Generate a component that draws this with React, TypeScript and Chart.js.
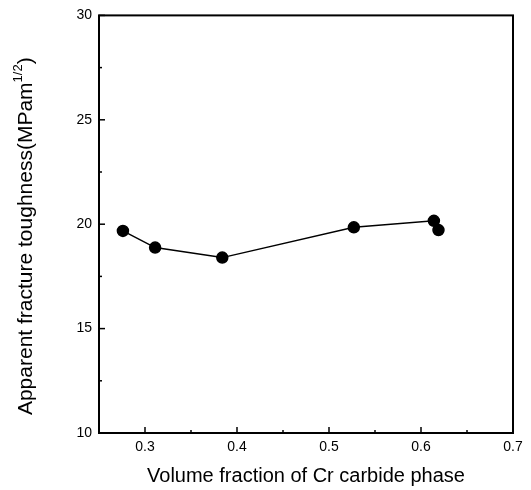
import React, { useEffect, useRef } from "react";
import { Chart, registerables } from "chart.js";

Chart.register(...registerables);

const volumeFraction = [0.276, 0.311, 0.384, 0.527, 0.614, 0.619];
const toughness = [19.68, 18.88, 18.4, 19.85, 20.16, 19.72];
const xTicks = [0.3, 0.4, 0.5, 0.6, 0.7];
const yTicks = [10, 15, 20, 25, 30];
const xMinorTicks = [0.35, 0.45, 0.55, 0.65];
const yMinorTicks = [12.5, 17.5, 22.5, 27.5];
const xTitle = "Volume fraction of Cr carbide phase";
const yTitleMain = "Apparent fracture toughness(MPam";
const yTitleSup = "1/2";
const yTitleEnd = ")";

const FONT = "'Liberation Sans', Arial, sans-serif";

const framePlugin = {
  id: "frame",
  afterDraw(chart: any) {
    const { ctx, chartArea: a, scales } = chart;
    const xs = scales.x;
    const ys = scales.y;
    ctx.save();
    ctx.strokeStyle = "#000";
    ctx.lineWidth = 2;
    ctx.strokeRect(a.left, a.top, a.right - a.left, a.bottom - a.top);
    ctx.lineWidth = 1.5;
    const tick = (x1: number, y1: number, x2: number, y2: number) => {
      ctx.beginPath();
      ctx.moveTo(x1, y1);
      ctx.lineTo(x2, y2);
      ctx.stroke();
    };
    xTicks.forEach((v) => {
      const px = xs.getPixelForValue(v);
      tick(px, a.bottom, px, a.bottom - 6);
    });
    xMinorTicks.forEach((v) => {
      const px = xs.getPixelForValue(v);
      tick(px, a.bottom, px, a.bottom - 3);
    });
    yTicks.forEach((v) => {
      const py = ys.getPixelForValue(v);
      tick(a.left, py, a.left + 6, py);
    });
    yMinorTicks.forEach((v) => {
      const py = ys.getPixelForValue(v);
      tick(a.left, py, a.left + 3, py);
    });
    // y title with superscript
    const mainFont = `21px ${FONT}`;
    const supFont = `13px ${FONT}`;
    ctx.font = mainFont;
    const w1 = ctx.measureText(yTitleMain).width;
    const w3 = ctx.measureText(yTitleEnd).width;
    ctx.font = supFont;
    const w2 = ctx.measureText(yTitleSup).width;
    const total = w1 + w2 + w3;
    const cy = (a.top + a.bottom) / 2 + 12;
    ctx.translate(26, cy);
    ctx.rotate(-Math.PI / 2);
    ctx.fillStyle = "#000";
    ctx.textBaseline = "middle";
    ctx.textAlign = "left";
    let x0 = -total / 2;
    ctx.font = mainFont;
    ctx.fillText(yTitleMain, x0, 0);
    x0 += w1;
    ctx.font = supFont;
    ctx.fillText(yTitleSup, x0, -8);
    x0 += w2;
    ctx.font = mainFont;
    ctx.fillText(yTitleEnd, x0, 0);
    ctx.restore();
  },
};

export default function App() {
  const ref = useRef<HTMLCanvasElement>(null);
  useEffect(() => {
    document.body.style.margin = "0";
    const chart = new Chart(ref.current!, {
      type: "scatter",
      data: {
        datasets: [
          {
            data: volumeFraction.map((x, i) => ({ x, y: toughness[i] })),
            showLine: true,
            borderColor: "#000",
            backgroundColor: "#000",
            borderWidth: 1.5,
            pointRadius: 5.5,
            pointHoverRadius: 5.5,
          },
        ],
      },
      options: {
        animation: false,
        responsive: false,
        layout: { padding: { left: 0, right: 18, top: 15, bottom: 0 } },
        plugins: { legend: { display: false }, tooltip: { enabled: false } },
        scales: {
          x: {
            type: "linear",
            min: 0.25,
            max: 0.7,
            afterBuildTicks: (s: any) => {
              s.ticks = xTicks.map((v) => ({ value: v }));
            },
            afterFit: (s: any) => {
              s.height = 57;
            },
            grid: { display: false, drawTicks: false },
            border: { display: false },
            ticks: {
              color: "#000",
              font: { family: FONT, size: 14 },
              padding: 6,
              callback: (v: any) => Number(v).toFixed(1),
            },
            title: {
              display: true,
              text: xTitle,
              color: "#000",
              font: { family: FONT, size: 20 },
              padding: { top: 2, bottom: 2 },
            },
          },
          y: {
            type: "linear",
            min: 10,
            max: 30,
            afterBuildTicks: (s: any) => {
              s.ticks = yTicks.map((v) => ({ value: v }));
            },
            afterFit: (s: any) => {
              s.width = 99;
            },
            grid: { display: false, drawTicks: false },
            border: { display: false },
            ticks: {
              color: "#000",
              font: { family: FONT, size: 14 },
              padding: 7,
            },
          },
        },
      },
      plugins: [framePlugin],
    });
    return () => chart.destroy();
  }, []);
  return (
    <div style={{ width: 531, height: 490 }}>
      <canvas ref={ref} width={531} height={490} />
    </div>
  );
}
